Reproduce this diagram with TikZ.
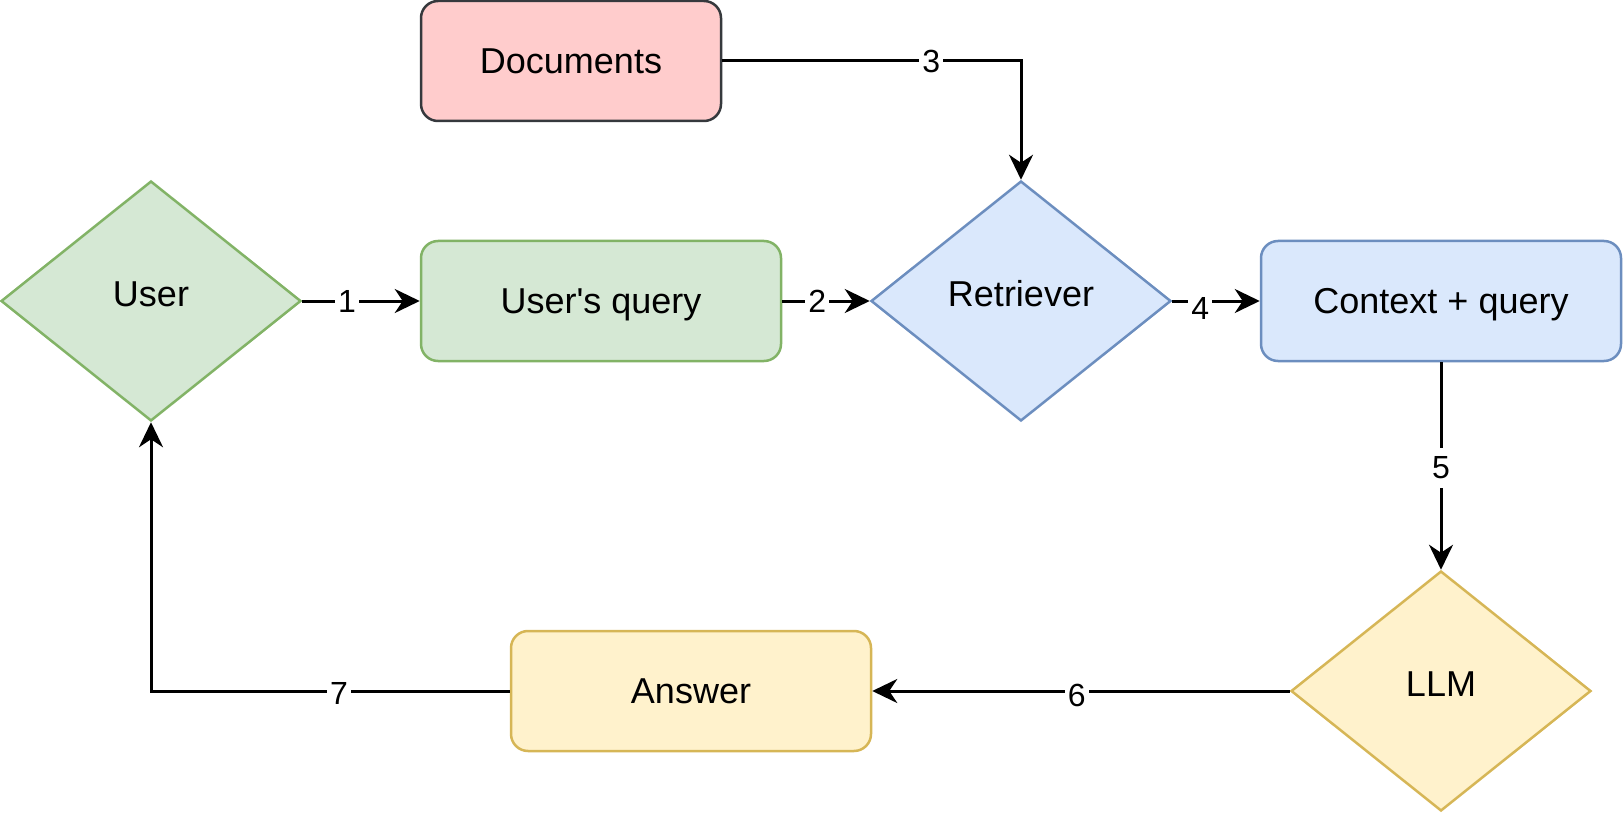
\documentclass[tikz,border=0pt]{standalone}
\usepackage{fontspec}
\setmainfont{Liberation Sans}
\usetikzlibrary{shapes.geometric,arrows.meta}
\definecolor{redfill}{HTML}{FFCCCC}
\definecolor{redline}{HTML}{36393D}
\definecolor{greenfill}{HTML}{D5E8D4}
\definecolor{greenline}{HTML}{82B366}
\definecolor{bluefill}{HTML}{DAE8FC}
\definecolor{blueline}{HTML}{6C8EBF}
\definecolor{yellowfill}{HTML}{FFF2CC}
\definecolor{yellowline}{HTML}{D6B656}
\begin{document}
\begin{tikzpicture}[x=1pt,y=-1pt,
  nodefont/.style={font=\fontsize{36}{42}\selectfont},
  box/.style={nodefont, draw, line width=2.5pt, rounded corners=17pt,
    minimum width=360pt, minimum height=120pt, inner sep=0pt,
    text height=32.8pt, text depth=7pt},
  dia/.style={nodefont, draw, shape=diamond, line width=2.5pt,
    minimum width=300pt, minimum height=240pt, inner sep=0pt,
    text height=32.8pt, text depth=21pt},
  greenstyle/.style={fill=greenfill, draw=greenline},
  bluestyle/.style={fill=bluefill, draw=blueline},
  yellowstyle/.style={fill=yellowfill, draw=yellowline},
  redstyle/.style={fill=redfill, draw=redline},
  edge/.style={draw=black, line width=3pt,
    -{Stealth[length=25pt, width=24pt, inset=8pt]}},
  lab/.style={fill=white, inner xsep=3pt, inner ysep=9pt,
    font=\fontsize{32}{36}\selectfont}
]
\useasboundingbox (0,0) rectangle (1623,837);

\node[box, redstyle, minimum width=300pt] (docs) at (571,61) {Documents};
\node[dia, greenstyle] (user) at (151,301) {User};
\node[box, greenstyle] (query) at (601,301) {User\textquotesingle s query};
\node[dia, bluestyle] (retr) at (1021,301) {Retriever};
\node[box, bluestyle] (ctx) at (1441,301) {Context + query};
\node[dia, yellowstyle] (llm) at (1441,691) {LLM};
\node[box, yellowstyle] (ans) at (691,691) {Answer};

\draw[edge] (user.east) -- node[lab, pos=0.38]{1} (query.west);
\draw[edge] (query.east) -- node[lab, pos=0.40]{2} (retr.west);
\draw[edge] (docs.east) -| node[lab, pos=0.35]{3} (retr.north);
\draw[edge] (retr.east) -- node[lab, pos=0.32, yshift=-7.5pt]{4} (ctx.west);
\draw[edge] (ctx.south) -- node[lab, pos=0.51]{5} (llm.north);
\draw[edge] (llm.west) -- node[lab, pos=0.51, yshift=-4.5pt]{6} (ans.east);
\draw[edge] (ans.west) -| node[lab, pos=0.238, yshift=-2.5pt]{7} (user.south);
\end{tikzpicture}
\end{document}
